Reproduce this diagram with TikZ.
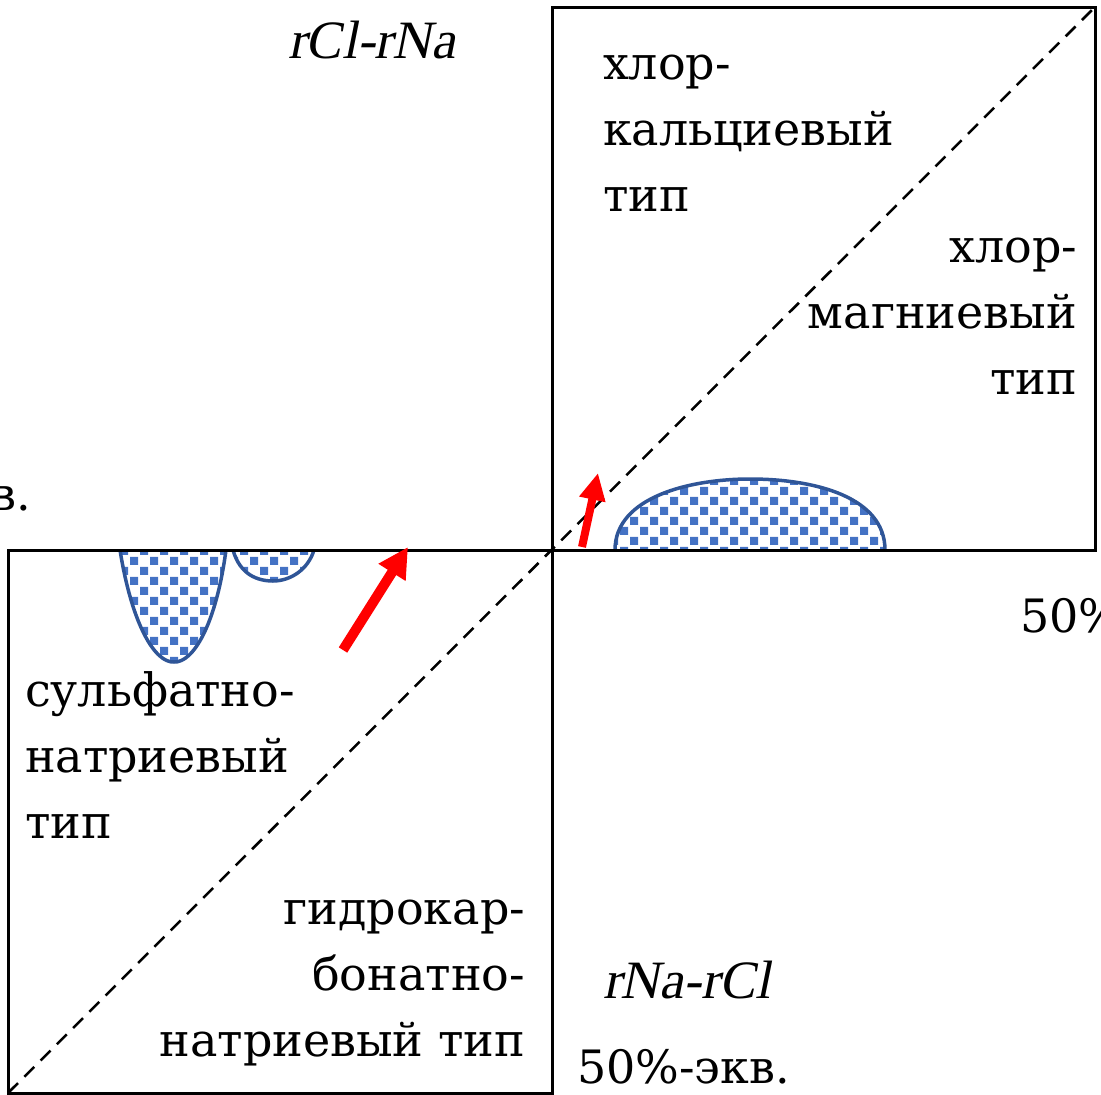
\documentclass[tikz,border=0pt]{standalone}
\usepackage{fontspec}
\newfontfamily\uprightlabel{DejaVu Serif}
\newfontfamily\labelslant{Liberation Serif}[FakeSlant=0.2]
\usetikzlibrary{arrows.meta,patterns}
\pgfdeclarepatternformonly{bluesquares}{\pgfpoint{-1pt}{-1pt}}{\pgfpoint{21pt}{21pt}}{\pgfpoint{20pt}{20pt}}{%
  \pgfpathrectangle{\pgfpoint{0pt}{0pt}}{\pgfpoint{8pt}{8pt}}%
  \pgfpathrectangle{\pgfpoint{10pt}{10pt}}{\pgfpoint{8pt}{8pt}}%
  \pgfusepath{fill}}
\definecolor{blobline}{HTML}{2F5597}
\definecolor{blobfill}{HTML}{4472C4}
\begin{document}
\begin{tikzpicture}[x=1pt,y=-1pt,
  box/.style={draw=black, line width=3pt},
  diagline/.style={draw=black, line width=2.5pt, dash pattern=on 14pt off 9pt},
  lbl/.style={inner sep=0pt, outer sep=0pt, font=\uprightlabel\fontsize{46}{66}\selectfont},
  axlbl/.style={inner sep=0pt, outer sep=0pt, font=\labelslant\fontsize{54}{66}\selectfont},
  blobedge/.style={draw=blobline, line width=3.5pt},
  blobarea/.style={pattern=bluesquares, pattern color=blobfill},
  bigarrow/.style={draw=red, line width=10pt, -{Triangle[length=30pt,width=30pt]}},
  smallarrow/.style={draw=red, line width=8pt, -{Triangle[length=27pt,width=25pt]}}]
\useasboundingbox (0,0) rectangle (1101,1095);

% blobs
\fill[blobarea] (120,550) .. controls (132,625) and (155,663) .. (174,662)
  .. controls (193,663) and (216,625) .. (226,550) -- cycle;
\draw[blobedge] (120,550) .. controls (132,625) and (155,663) .. (174,662)
  .. controls (193,663) and (216,625) .. (226,550);
\fill[blobarea] (233,550) .. controls (240,575) and (258,581) .. (273,581)
  .. controls (290,581) and (308,570) .. (314,550) -- cycle;
\draw[blobedge] (233,550) .. controls (240,575) and (258,581) .. (273,581)
  .. controls (290,581) and (308,570) .. (314,550);
\fill[blobarea] (615,550) .. controls (615,497) and (690,479) .. (750,479)
  .. controls (815,479) and (885,497) .. (885,550) -- cycle;
\draw[blobedge] (615,550) .. controls (615,497) and (690,479) .. (750,479)
  .. controls (815,479) and (885,497) .. (885,550);

% boxes and diagonal
\coordinate (ll) at (8,1093);
\coordinate (c) at (552,550);
\coordinate (ur) at (1095,7);
\draw[box] (ll) rectangle (c);
\draw[box] (c) rectangle (ur);
\draw[diagline] (ll) -- (ur);

% arrows
\coordinate (a1s) at (343,650);
\coordinate (a1e) at (408,547);
\coordinate (a2s) at (582,547);
\coordinate (a2e) at (598,473);
\draw[bigarrow] (a1s) -- (a1e);
\draw[smallarrow] (a2s) -- (a2e);

% labels
\node[axlbl, anchor=base west] (rclrna) at (288,58) {rCl-rNa};
\node[lbl, anchor=north west, align=left] (hca) at (603,32.8) {\strut хлор-\\кальциевый\\тип};
\node[lbl, anchor=north east, align=right] (hmg) at (1077,215.8) {\strut хлор-\\магниевый\\тип};
\node[lbl, anchor=north west, align=left] (sna) at (25,659.8) {\strut сульфатно-\\натриевый\\тип};
\node[lbl, anchor=north east, align=right] (gkb) at (525,877.8) {\strut гидрокар-\\бонатно-\\натриевый тип};
\node[axlbl, anchor=base west] (rnarcl) at (603,998) {rNa-rCl};
\node[lbl, anchor=base west] (pbottom) at (577,1083) {50\%-экв.};
\node[lbl, anchor=base west] (pright) at (1020,632) {50\%};
\node[lbl, anchor=base east] (vcut) at (31,510) {в.};
\end{tikzpicture}
\end{document}
